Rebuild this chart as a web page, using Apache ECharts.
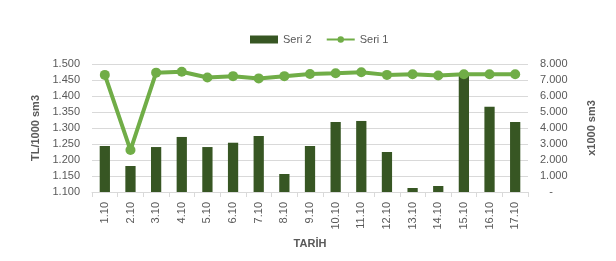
<!DOCTYPE html>
<html><head><meta charset="utf-8">
<script src="https://cdn.jsdelivr.net/npm/echarts@6/dist/echarts.min.js"></script>
<style>html,body{margin:0;padding:0;background:#fff}#c{width:616px;height:261px}</style>
</head><body><div id="c"></div>
<script>
const categories = ['1.10','2.10','3.10','4.10','5.10','6.10','7.10','8.10','9.10','10.10','11.10','12.10','13.10','14.10','15.10','16.10','17.10'];
const seri1 = [1.466,1.231,1.473,1.476,1.458,1.462,1.455,1.462,1.469,1.471,1.474,1.466,1.468,1.464,1.468,1.468,1.468];
const seri2 = [2875,1625,2810,3440,2810,3080,3500,1125,2875,4375,4440,2500,250,375,7300,5330,4375];
const leftName = 'TL/1000 sm3';
const rightName = 'x1000 sm3';
const xName = 'TARİH';

const font = 'Liberation Sans';
const chart = echarts.init(document.getElementById('c'));
chart.setOption({
  animation: false,
  textStyle: {fontFamily: font},
  legend: {
    top: 29, left: 245, itemGap: 14,
    textStyle: {color: '#595959', fontSize: 11, fontFamily: font},
    data: [
      {name: 'Seri 2', icon: 'rect', itemStyle: {color: '#375623'}},
      {name: 'Seri 1'}
    ],
    itemWidth: 28, itemHeight: 8
  },
  grid: {left: 92, right: 88, top: 64, bottom: 69},
  xAxis: {
    type: 'category', data: categories,
    name: xName, nameLocation: 'middle', nameGap: 46,
    nameTextStyle: {color: '#595959', fontWeight: 'bold', fontSize: 11},
    axisLine: {lineStyle: {color: '#d9d9d9'}},
    axisTick: {show: true, length: 5, lineStyle: {color: '#d9d9d9'}},
    axisLabel: {rotate: 90, color: '#595959', fontSize: 11, margin: 10}
  },
  yAxis: [
    {
      type: 'value', min: 1.1, max: 1.5, interval: 0.05,
      name: leftName, nameLocation: 'middle', nameGap: 42, nameRotate: 90,
      nameTextStyle: {color: '#595959', fontWeight: 'bold', fontSize: 11},
      axisLine: {show: false}, axisTick: {show: false},
      splitLine: {lineStyle: {color: '#d9d9d9'}},
      axisLabel: {color: '#595959', fontSize: 11, margin: 12, formatter: v => v.toFixed(3)}
    },
    {
      type: 'value', min: 0, max: 8000, interval: 1000, position: 'right',
      name: rightName, nameLocation: 'middle', nameGap: 58, nameRotate: 90,
      nameTextStyle: {color: '#595959', fontWeight: 'bold', fontSize: 11},
      axisLine: {show: false}, axisTick: {show: false},
      splitLine: {show: false},
      axisLabel: {color: '#595959', fontSize: 11, margin: 12, align: 'left',
        formatter: v => v === 0 ? '   -' : (v/1000).toFixed(3)}
    }
  ],
  series: [
    {
      name: 'Seri 2', type: 'bar', yAxisIndex: 1, data: seri2,
      barWidth: '40%', itemStyle: {color: '#375623'}, z: 2
    },
    {
      name: 'Seri 1', type: 'line', yAxisIndex: 0, data: seri1,
      lineStyle: {color: '#70ad47', width: 4},
      itemStyle: {color: '#70ad47'},
      symbol: 'circle', symbolSize: 10, z: 3
    }
  ]
});
</script></body></html>
